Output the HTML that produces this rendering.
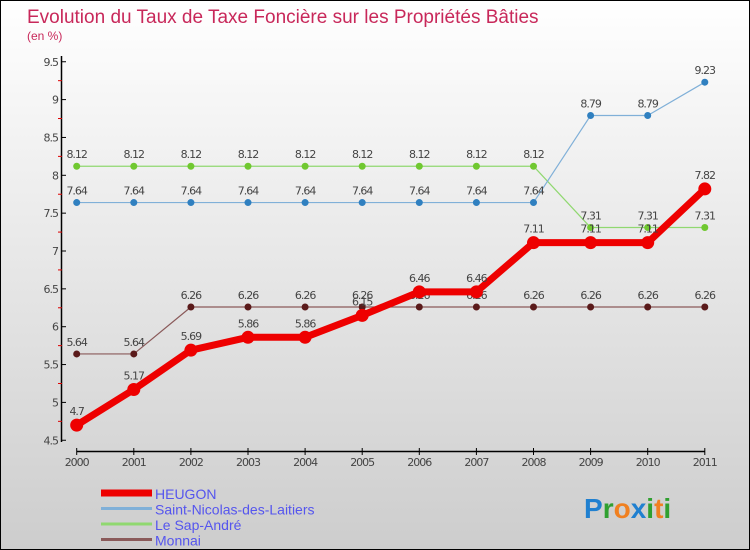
<!DOCTYPE html>
<html><head><meta charset="utf-8"><style>
body{margin:0}
#c{width:750px;height:550px;position:relative;overflow:hidden;border:1px solid #000;box-sizing:border-box;background:linear-gradient(#ffffff,#cdcdcd);font-family:"DejaVu Sans","Liberation Sans",sans-serif}
svg{position:absolute;left:0;top:0}
</style></head><body>
<div id="c">
<svg id="s" width="750" height="550">
<text x="26" y="22" font-size="19" fill="#c8285a" font-family="Liberation Sans,sans-serif">Evolution du Taux de Taxe Foncière sur les Propriétés Bâties</text>
<text x="26" y="39" font-size="12" fill="#c8285a" font-family="Liberation Sans,sans-serif">(en %)</text>
</svg>
</div>
<script>
const years=[2000,2001,2002,2003,2004,2005,2006,2007,2008,2009,2010,2011];
const heugon=[4.7,5.17,5.69,5.86,5.86,6.15,6.46,6.46,7.11,7.11,7.11,7.82];
const stNicolas=[7.64,7.64,7.64,7.64,7.64,7.64,7.64,7.64,7.64,8.79,8.79,9.23];
const sapAndre=[8.12,8.12,8.12,8.12,8.12,8.12,8.12,8.12,8.12,7.31,7.31,7.31];
const monnai=[5.64,5.64,6.26,6.26,6.26,6.26,6.26,6.26,6.26,6.26,6.26,6.26];
const yTicks=[4.5,5,5.5,6,6.5,7,7.5,8,8.5,9,9.5];
const NS='http://www.w3.org/2000/svg',s=document.getElementById('s');
const X=i=>75.7+i*57.1, Y=v=>174.3-(v-8)*75.7;
function el(t,a){const e=document.createElementNS(NS,t);for(const k in a)e.setAttribute(k,a[k]);s.appendChild(e);return e;}
let ax=el('line',{x1:60.5,y1:55,x2:60.5,y2:441,stroke:'#000','stroke-width':1.5});

let bx=el('line',{x1:75.7,y1:450.5,x2:X(11),y2:450.5,stroke:'#000','stroke-width':1.5});

yTicks.forEach((v,i)=>{el('line',{x1:60,y1:Y(v),x2:65,y2:Y(v),stroke:'#000'});
 if(i<yTicks.length-1)el('line',{x1:57,y1:Y(v+0.25),x2:61,y2:Y(v+0.25),stroke:'#d00'});
 const t=el('text',{x:57,y:Y(v)+4,'font-size':11,fill:'#444','text-anchor':'end','letter-spacing':'-1'});t.textContent=String(v);
 });
years.forEach((y,i)=>{el('line',{x1:X(i),y1:447,x2:X(i),y2:454,stroke:'#000'});
 const t=el('text',{x:X(i),y:465,'font-size':11,fill:'#444','text-anchor':'middle','letter-spacing':'-1'});t.textContent=y;
 });
function series(d,color,dot,w,r,name){
 const p=el('polyline',{points:d.map((v,i)=>X(i)+','+Y(v)).join(' '),fill:'none',stroke:color,'stroke-width':w,'stroke-linejoin':'round'});
 
 d.forEach((v,i)=>{const c=el('circle',{cx:X(i),cy:Y(v),r:r,fill:dot});
  
  const t=el('text',{x:X(i),y:Y(v)-(w>3?10:8),'font-size':11,fill:'#444','text-anchor':'middle','letter-spacing':'-1'});t.textContent=String(v);
  });
}
series(monnai,'#8a5a5a','#5a1a1a',1.2,3.5,'monnai');
series(sapAndre,'#90d870','#70c830',1.2,3.5,'le-sap-andre');
series(stNicolas,'#80b0d8','#3080c0',1.2,3.5,'saint-nicolas');
series(heugon,'#ee0000','#ee0000',7,6.5,'heugon');
const leg=[['HEUGON','#ee0000',7],['Saint-Nicolas-des-Laitiers','#80b0d8',3],['Le Sap-André','#90d870',3],['Monnai','#8a5a5a',3]];
leg.forEach((l,i)=>{const y=492+i*15.5;
 const ln=el('line',{x1:100,y1:y,x2:151,y2:y,stroke:l[1],'stroke-width':l[2]});
 
 const t=el('text',{x:154,y:y+6,'font-size':14,fill:'#5555ee','font-family':'Liberation Sans,sans-serif'});t.textContent=l[0];
 });
const lg=el('text',{x:583,y:517,'font-size':28,'font-weight':'bold','font-family':'Liberation Sans,sans-serif'});

[['P','#2080d0'],['r','#30a030'],['o','#f08020'],['x','#2080d0'],['i','#30a030'],['t','#f08020'],['i','#30a030']].forEach(c=>{const ts=document.createElementNS(NS,'tspan');ts.setAttribute('fill',c[1]);ts.textContent=c[0];lg.appendChild(ts);});
</script>
</body></html>
